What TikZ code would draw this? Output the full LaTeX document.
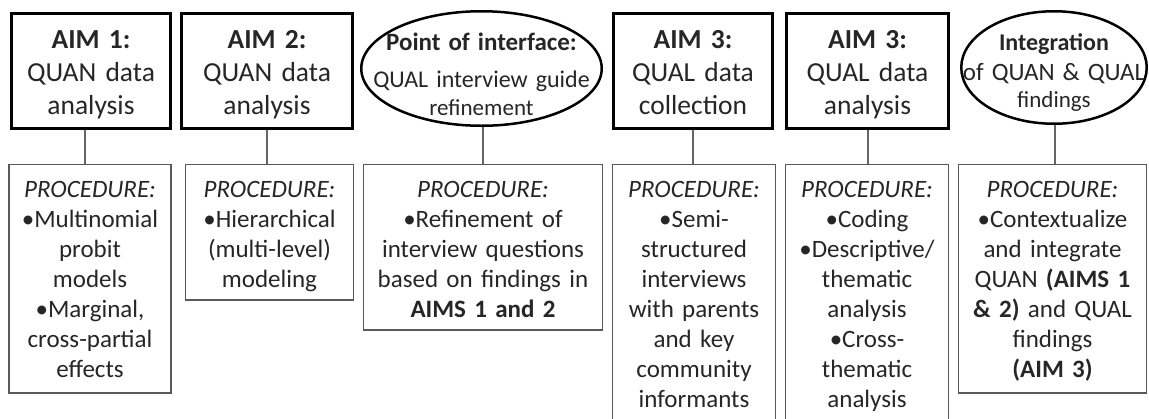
\documentclass[tikz,border=0pt]{standalone}
\usepackage{fontspec}
\setmainfont{Carlito}
\usetikzlibrary{shapes.geometric}
\begin{document}
\begin{tikzpicture}[x=1pt,y=-1pt,
  aimbox/.style={draw=black, line width=3pt, anchor=north, inner xsep=0pt, inner ysep=0pt,
    align=center, text=black!85, font=\fontsize{27.5}{33}\selectfont,
    text height=35.5pt, text depth=79.5pt},
  ifshape/.style={draw=black, line width=2.5pt, ellipse, inner sep=0pt},
  iftext/.style={align=center, text width=250pt, inner sep=0pt, text=black!85,
    text height=20pt},
  procbox/.style={draw=black!65, line width=1.5pt, anchor=north, inner xsep=0pt, inner ysep=0pt,
    align=center, text=black!85, font=\fontsize{25}{30}\selectfont, text height=33.25pt},
  link/.style={draw=black!60, line width=2pt}
]
\useasboundingbox (0,0) rectangle (1149,418);

% top row
\node[aimbox, text width=159pt] (a1) at (91,11.5) {\textbf{AIM 1:}\\QUAN data\\analysis};
\node[aimbox, text width=171pt] (a2) at (267,11.5) {\textbf{AIM 2:}\\QUAN data\\analysis};
\node[ifshape, minimum width=240.5pt, minimum height=114.5pt] (e1) at (481.5,68.5) {};
\node[iftext, text depth=57pt, font=\fontsize{24}{28}\selectfont] (e1t) at (e1.center)
  {{\fontsize{25}{28}\selectfont\bfseries Point of interface:}\\[9pt]
   {\fontsize{24}{28}\selectfont QUAL interview guide}\\
   {\fontsize{23}{28}\selectfont refinement}};
\node[aimbox, text width=159pt] (a3) at (693,11.5) {\textbf{AIM 3:}\\QUAL data\\collection};
\node[aimbox, text width=162pt] (a4) at (867.5,11.5) {\textbf{AIM 3:}\\QUAL data\\analysis};
\node[ifshape, minimum width=185.5pt, minimum height=112.5pt] (e2) at (1054,67.5) {};
\node[iftext, text width=200pt, text depth=55pt, font=\fontsize{24}{27}\selectfont] (e2t) at (e2.center)
  {{\fontsize{24}{27}\selectfont\bfseries Integration}\\[3pt]
   {\fontsize{25}{27}\selectfont of QUAN \& QUAL}\\
   {\fontsize{23}{27}\selectfont findings}};

% procedure row
\node[procbox, text width=162pt, text depth=195.25pt] (p1) at (90,163.75)
  {\textit{PROCEDURE:}\\•Multinomial\\probit\\models\\•Marginal,\\cross-partial\\effects};
\node[procbox, text width=168pt, text depth=102pt] (p2) at (269.5,163.75)
  {\textit{PROCEDURE:}\\•Hierarchical\\(multi-level)\\modeling};
\node[procbox, text width=239pt, text depth=132pt] (p3) at (483,163.75)
  {\textit{PROCEDURE:}\\•Refinement of\\interview questions\\based on findings in\\\textbf{AIMS 1 and 2}};
\node[procbox, text width=163pt, text depth=240pt] (p4) at (694,163.75)
  {\textit{PROCEDURE:}\\•Semi-\\structured\\interviews\\with parents\\and key\\community\\informants};
\node[procbox, text width=163pt, text depth=240pt] (p5) at (867,163.75)
  {\textit{PROCEDURE:}\\•Coding\\•Descriptive/\\thematic\\analysis\\•Cross-\\thematic\\analysis};
\node[procbox, text width=188pt, text depth=195pt] (p6) at (1052.5,163.75)
  {\textit{PROCEDURE:}\\•Contextualize\\and integrate\\QUAN \textbf{(AIMS 1}\\\textbf{\& 2)} and QUAL\\findings\\\textbf{(AIM 3)}};

% connectors
\draw[link] ([xshift=-6pt]a1.south) -- ([xshift=-6pt]a1.south |- p1.north);
\draw[link] (a2.south) -- (a2.south |- p2.north);
\draw[link] ([xshift=1.5pt]e1.south) -- ([xshift=1.5pt]e1.south |- p3.north);
\draw[link] (a3.south) -- (a3.south |- p4.north);
\draw[link] (a4.south) -- (a4.south |- p5.north);
\draw[link] ([xshift=1pt]e2.south) -- ([xshift=1pt]e2.south |- p6.north);
\end{tikzpicture}
\end{document}
